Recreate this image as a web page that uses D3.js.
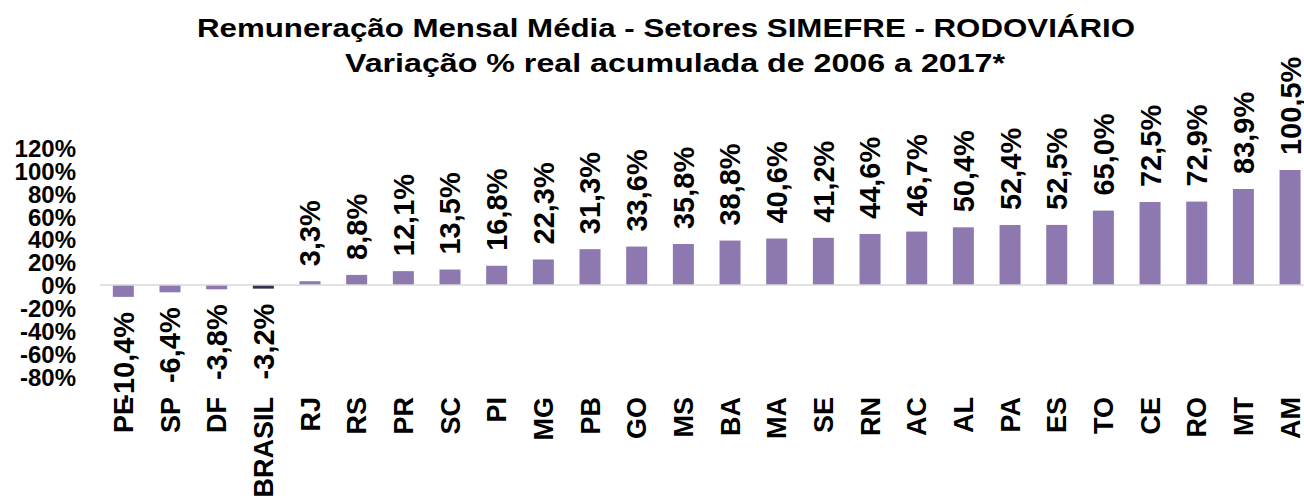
<!DOCTYPE html>
<html>
<head>
<meta charset="utf-8">
<script src="https://cdn.jsdelivr.net/npm/d3@7/dist/d3.min.js"></script>
<style>
  html, body { margin: 0; padding: 0; background: #fff; }
  svg { display: block; font-family: "Liberation Sans", Arial, sans-serif; font-weight: bold; }
</style>
</head>
<body>
<svg id="chart" width="1304" height="499"></svg>
<script>
const titleLines = ["Remuneração Mensal Média - Setores SIMEFRE - RODOVIÁRIO", "Variação % real acumulada de 2006 a 2017*"];
const categories = ["PE","SP","DF","BRASIL","RJ","RS","PR","SC","PI","MG","PB","GO","MS","BA","MA","SE","RN","AC","AL","PA","ES","TO","CE","RO","MT","AM"];
const values = [-10.4,-6.4,-3.8,-3.2,3.3,8.8,12.1,13.5,16.8,22.3,31.3,33.6,35.8,38.8,40.6,41.2,44.6,46.7,50.4,52.4,52.5,65.0,72.5,72.9,83.9,100.5];
const highlight = ["BRASIL"];
const tickValues = [-80,-60,-40,-20,0,20,40,60,80,100,120];

const svg = d3.select("#chart");
const data = categories.map((c, i) => ({cat: c, val: values[i]}));

const x = d3.scaleBand().domain(categories).range([100, 1313.4]).paddingInner(0.55).paddingOuter(0.275);
const y = d3.scaleLinear().domain([-80, 120]).range([376.5, 147.7]);

const fmt = v => (v.toFixed(1).replace(".", ",")) + "%";

// Title
const titleCfg = [{cx: 666, y: 37, len: 938}, {cx: 675, y: 72, len: 660}];
svg.append("g").selectAll("text").data(titleLines).join("text")
  .attr("x", (d, i) => titleCfg[i].cx)
  .attr("y", (d, i) => titleCfg[i].y)
  .attr("text-anchor", "middle")
  .attr("font-size", 25)
  .attr("textLength", (d, i) => titleCfg[i].len)
  .attr("lengthAdjust", "spacingAndGlyphs")
  .attr("fill", "#000")
  .text(d => d);

// Y axis labels (no line, no ticks)
const yAxis = d3.axisLeft(y).tickValues(tickValues).tickFormat(d => d + "%").tickSize(0).tickPadding(0);
const yg = svg.append("g").attr("transform", "translate(76,1)").call(yAxis);
yg.select(".domain").remove();
yg.selectAll("text").attr("font-size", 24).attr("font-family", "Liberation Sans, Arial, sans-serif").attr("font-weight", "bold").attr("fill", "#000");

// Bars
svg.append("g").selectAll("rect").data(data).join("rect")
  .attr("x", d => x(d.cat))
  .attr("width", x.bandwidth())
  .attr("y", d => y(Math.max(0, d.val)))
  .attr("height", d => Math.abs(y(d.val) - y(0)))
  .attr("fill", d => highlight.includes(d.cat) ? "#3b2d4d" : "#8d79b0");

// Zero line
svg.append("line")
  .attr("x1", 100).attr("x2", 1304)
  .attr("y1", y(0)).attr("y2", y(0))
  .attr("stroke", "#d9d9d9").attr("stroke-width", 1.5);

// Value labels
const gap = 15;
svg.append("g").selectAll("text").data(data).join("text")
  .attr("transform", d => {
    const cx = x(d.cat) + x.bandwidth() / 2;
    const yy = d.val >= 0 ? y(d.val) - gap : y(d.val) + gap;
    return `translate(${cx},${yy}) rotate(-90)`;
  })
  .attr("text-anchor", d => d.val >= 0 ? "start" : "end")
  .attr("dy", "0.36em")
  .attr("font-size", 29)
  .attr("fill", "#000")
  .text(d => fmt(d.val));

// Category labels
svg.append("g").selectAll("text").data(categories).join("text")
  .attr("transform", d => `translate(${x(d) + x.bandwidth() / 2},397) rotate(-90)`)
  .attr("text-anchor", "end")
  .attr("dy", "0.36em")
  .attr("font-size", 27)
  .attr("fill", "#000")
  .text(d => d);
</script>
</body>
</html>
